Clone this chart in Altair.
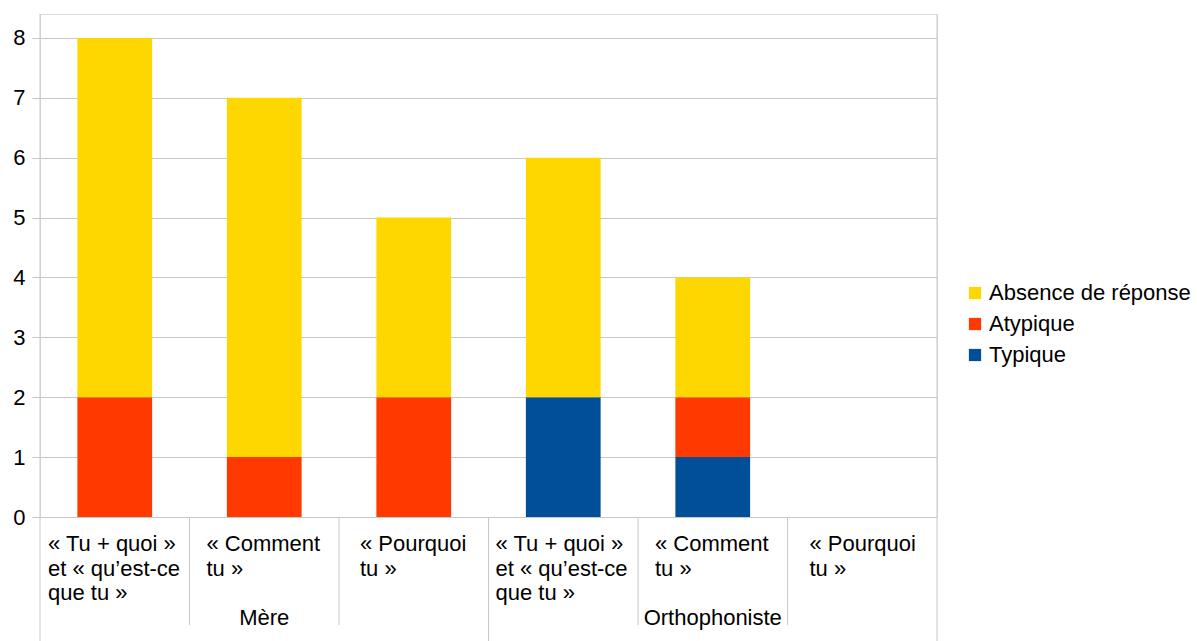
import altair as alt
import pandas as pd

categories = ["« Tu + quoi »\net « qu’est-ce\nque tu »", "« Comment\ntu »", "« Pourquoi\ntu »",
              "« Tu + quoi »\net « qu’est-ce\nque tu »", "« Comment\ntu »", "« Pourquoi\ntu »"]
groups = ["Mère", "Orthophoniste"]
series = ["Absence de réponse", "Atypique", "Typique"]
typique = [0, 0, 0, 2, 1, 0]
atypique = [2, 1, 2, 0, 1, 0]
absence = [6, 6, 3, 4, 2, 0]
y_ticks = [0, 1, 2, 3, 4, 5, 6, 7, 8]
colors = ["#FFD700", "#FF3A00", "#004F98"]

# layout constants (pixels)
W, H = 897, 503
STEP = W / len(categories)
label_dx = [8, 17, 21, 7, 17, 22]
FONT = "Liberation Sans"
FS = 22
GRID = "#c8c8c8"

rows = []
for i in range(len(categories)):
    for order, (s, vals) in enumerate([("Typique", typique), ("Atypique", atypique), ("Absence de réponse", absence)]):
        rows.append({"pos": i, "serie": s, "v": vals[i], "ord": order})
bars_df = pd.DataFrame(rows)

xs = alt.Scale(domain=[0, 6], nice=False, zero=False)
ys = alt.Scale(domain=[0, 8.4], nice=False)

bars = alt.Chart(bars_df).transform_stack(
    stack="v", groupby=["pos"], as_=["y0", "y1"], sort=[alt.SortField("ord")]
).transform_calculate(
    xa="datum.pos + 0.25", xb="datum.pos + 0.75"
).mark_bar().encode(
    x=alt.X("xa:Q", scale=xs, axis=None),
    x2="xb:Q",
    y=alt.Y("y0:Q", scale=ys, axis=alt.Axis(values=y_ticks, grid=True, gridColor=GRID, domain=False,
                                           tickColor=GRID, tickSize=8, labelFontSize=FS, labelFont=FONT,
                                           labelColor="#000", labelPadding=7, title=None, format="d")),
    y2="y1:Q",
    color=alt.Color("serie:N", scale=alt.Scale(domain=series, range=colors),
                    legend=alt.Legend(title=None, orient="none", legendX=924, legendY=268,
                                      symbolType="square", symbolSize=150, symbolStrokeWidth=0,
                                      labelFontSize=FS, labelFont=FONT, labelColor="#000", labelLimit=0,
                                      rowPadding=9, labelOffset=3)),
)

# separators
full_df = pd.DataFrame({"x": [0, 6]})
full = alt.Chart(full_df).mark_rule(color=GRID, strokeWidth=1).encode(
    x=alt.X("x:Q", scale=xs), y=alt.value(0), y2=alt.value(627))
long_df = pd.DataFrame({"x": [3]})
longr = alt.Chart(long_df).mark_rule(color=GRID, strokeWidth=1).encode(
    x=alt.X("x:Q", scale=xs), y=alt.value(H), y2=alt.value(627))
short_df = pd.DataFrame({"x": [1, 2, 4, 5]})
shortr = alt.Chart(short_df).mark_rule(color=GRID, strokeWidth=1).encode(
    x=alt.X("x:Q", scale=xs), y=alt.value(H), y2=alt.value(611))

lab_df = pd.DataFrame({"lx": [i + label_dx[i] / STEP for i in range(len(categories))], "t": categories})
labels = alt.Chart(lab_df).mark_text(align="left", baseline="top", fontSize=FS, font=FONT,
                                     lineBreak="\n", lineHeight=24.5, color="#000").encode(
    x=alt.X("lx:Q", scale=xs), y=alt.value(520), text="t:N")

grp_df = pd.DataFrame({"gx": [1.5, 4.5], "g": groups})
glabels = alt.Chart(grp_df).mark_text(align="center", baseline="middle", fontSize=FS, font=FONT,
                                      color="#000").encode(
    x=alt.X("gx:Q", scale=xs), y=alt.value(604), text="g:N")

chart = alt.layer(bars, full, longr, shortr, labels, glabels).properties(
    width=W, height=H,
    autosize=alt.AutoSizeParams(type="none"),
    padding={"left": 40, "top": 14, "right": 260, "bottom": 124},
).configure_view(stroke=None).configure(background="white")

chart.save("out.html", embed_options={"renderer": "svg", "actions": False})
